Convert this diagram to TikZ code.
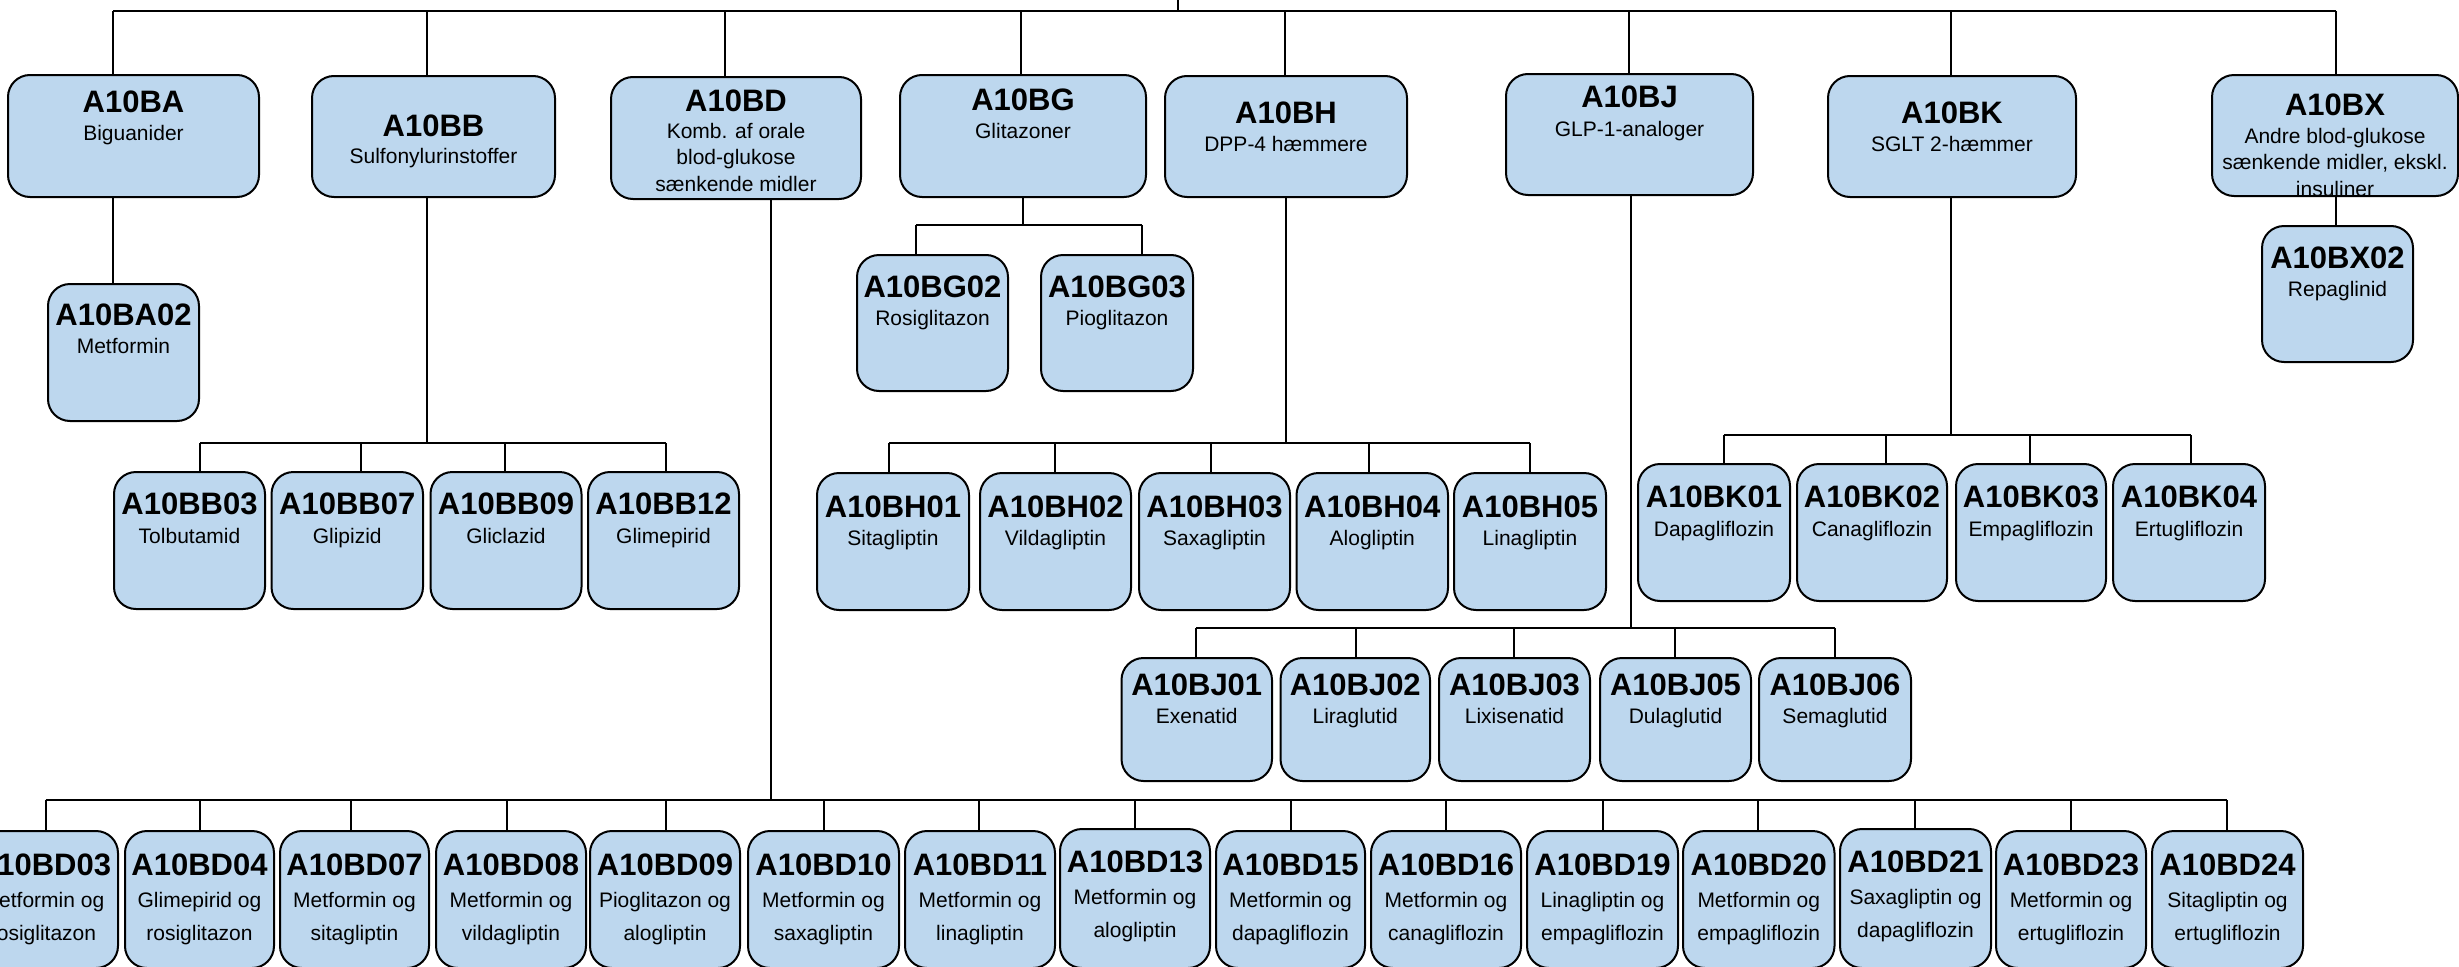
\documentclass[tikz,border=0pt]{standalone}
\usepackage{fontspec}
\setmainfont{Liberation Sans}
\newcommand\sublines[1]{\begin{tabular}[t]{@{}c@{}}#1\end{tabular}}
\def\subskip{26.5}
\definecolor{boxfill}{RGB}{189,215,238}
\tikzset{
  atcbox/.style={draw=black, fill=boxfill, line width=2pt, rounded corners=22pt, inner sep=0pt, outer sep=0pt},
  titletext/.style={anchor=base, inner sep=0pt, font=\fontsize{31}{37}\selectfont\bfseries},
  subtext/.style={anchor=base, inner sep=0pt, font=\fontsize{21}{\subskip}\selectfont},
  conn/.style={draw=black, line width=2pt}
}
% #1 name, #2 x1, #3 y1, #4 x2, #5 y2, #6 title baseline, #7 title, #8 sub baseline, #9 sub text
\newcommand\atc[9]{%
  \pgfmathsetmacro\bw{#4-(#2)}%
  \pgfmathsetmacro\bh{#5-(#3)}%
  \pgfmathsetmacro\cx{(#2+#4)/2}%
  \pgfmathsetmacro\cy{(#3+#5)/2}%
  \node[atcbox, minimum width=\bw pt, minimum height=\bh pt] (#1) at (\cx,\cy) {};
  \node[titletext] (#1-t) at (\cx,#6) {#7};
  \node[subtext] (#1-s) at (\cx,#8) {\sublines{#9}};
}
\begin{document}
\begin{tikzpicture}[x=1pt,y=-1pt]
\useasboundingbox (0,0) rectangle (2459,966);
\clip (0,0) rectangle (2459,966);

% ---------- level 1 ----------
\atc{ba}{8}{75}{259}{197}{112}{A10BA}{140}{Biguanider}
\atc{bb}{312}{76}{555}{197}{136}{A10BB}{163}{Sulfonylurinstoffer}
\atc{bd}{611}{77}{861}{199}{111}{A10BD}{138}{Komb. af orale\\blod-glukose\\sænkende midler}
\atc{bg}{900}{75}{1146}{197}{110}{A10BG}{138}{Glitazoner}
\atc{bh}{1165}{76}{1407}{197}{123}{A10BH}{151}{DPP-4 hæmmere}
\atc{bj}{1506}{74}{1753}{195}{107}{A10BJ}{136}{GLP-1-analoger}
\atc{bk}{1828}{76}{2076}{197}{123}{A10BK}{151}{SGLT 2-hæmmer}
\atc{bx}{2212}{75}{2458}{196}{115}{A10BX}{143}{Andre blod-glukose\\sænkende midler, ekskl.\\insuliner}

% ---------- children ----------
\atc{ba02}{48}{284}{199}{421}{325}{A10BA02}{353}{Metformin}

\atc{bb03}{114}{472}{265}{609}{514}{A10BB03}{543}{Tolbutamid}
\atc{bb07}{271.5}{472}{423}{609}{514}{A10BB07}{543}{Glipizid}
\atc{bb09}{430.5}{472}{581.5}{609}{514}{A10BB09}{543}{Gliclazid}
\atc{bb12}{588}{472}{739}{609}{514}{A10BB12}{543}{Glimepirid}

\atc{bg02}{857}{255}{1008}{391}{297}{A10BG02}{325}{Rosiglitazon}
\atc{bg03}{1041}{255}{1193}{391}{297}{A10BG03}{325}{Pioglitazon}

\atc{bh01}{817}{473}{969}{610}{517}{A10BH01}{545}{Sitagliptin}
\atc{bh02}{980}{473}{1131}{610}{517}{A10BH02}{545}{Vildagliptin}
\atc{bh03}{1139}{473}{1290}{610}{517}{A10BH03}{545}{Saxagliptin}
\atc{bh04}{1296.5}{473}{1448}{610}{517}{A10BH04}{545}{Alogliptin}
\atc{bh05}{1454}{473}{1606}{610}{517}{A10BH05}{545}{Linagliptin}

\atc{bj01}{1121.5}{658}{1272}{781}{695}{A10BJ01}{723}{Exenatid}
\atc{bj02}{1280.5}{658}{1430}{781}{695}{A10BJ02}{723}{Liraglutid}
\atc{bj03}{1439}{658}{1590}{781}{695}{A10BJ03}{723}{Lixisenatid}
\atc{bj05}{1600}{658}{1751}{781}{695}{A10BJ05}{723}{Dulaglutid}
\atc{bj06}{1759}{658}{1911}{781}{695}{A10BJ06}{723}{Semaglutid}

\atc{bk01}{1638}{464}{1790}{601}{507}{A10BK01}{536}{Dapagliflozin}
\atc{bk02}{1797}{464}{1947}{601}{507}{A10BK02}{536}{Canagliflozin}
\atc{bk03}{1956}{464}{2106}{601}{507}{A10BK03}{536}{Empagliflozin}
\atc{bk04}{2113}{464}{2265}{601}{507}{A10BK04}{536}{Ertugliflozin}

\atc{bx02}{2262}{226}{2413}{362}{268}{A10BX02}{296}{Repaglinid}

\def\subskip{33}
\atc{bd03}{-32}{831}{118}{968}{875}{A10BD03}{907}{Metformin og\\rosiglitazon}
\atc{bd04}{125}{831}{274}{968}{875}{A10BD04}{907}{Glimepirid og\\rosiglitazon}
\atc{bd07}{280}{831}{429}{968}{875}{A10BD07}{907}{Metformin og\\sitagliptin}
\atc{bd08}{436}{831}{586}{968}{875}{A10BD08}{907}{Metformin og\\vildagliptin}
\atc{bd09}{590}{831}{740}{968}{875}{A10BD09}{907}{Pioglitazon og\\alogliptin}
\atc{bd10}{748}{831}{899}{968}{875}{A10BD10}{907}{Metformin og\\saxagliptin}
\atc{bd11}{905}{831}{1055}{968}{875}{A10BD11}{907}{Metformin og\\linagliptin}
\atc{bd13}{1060}{829}{1210}{968}{872}{A10BD13}{904}{Metformin og\\alogliptin}
\atc{bd15}{1216}{831}{1365}{968}{875}{A10BD15}{907}{Metformin og\\dapagliflozin}
\atc{bd16}{1371}{831}{1521}{968}{875}{A10BD16}{907}{Metformin og\\canagliflozin}
\atc{bd19}{1527}{831}{1678}{968}{875}{A10BD19}{907}{Linagliptin og\\empagliflozin}
\atc{bd20}{1683}{831}{1834.5}{968}{875}{A10BD20}{907}{Metformin og\\empagliflozin}
\atc{bd21}{1840}{829}{1991}{968}{872}{A10BD21}{904}{Saxagliptin og\\dapagliflozin}
\atc{bd23}{1996}{831}{2146}{968}{875}{A10BD23}{907}{Metformin og\\ertugliflozin}
\atc{bd24}{2152}{831}{2303}{968}{875}{A10BD24}{907}{Sitagliptin og\\ertugliflozin}

% ---------- connectors: root to level 1 ----------
\coordinate (root) at (1178,0);
\coordinate (rootj) at (1178,11);
\coordinate (ba-j) at (113,11);
\coordinate (bb-j) at (426.5,11);
\coordinate (bd-j) at (725,11);
\coordinate (bg-j) at (1020.5,11);
\coordinate (bh-j) at (1285,11);
\coordinate (bj-j) at (1629,11);
\coordinate (bk-j) at (1951,11);
\coordinate (bx-j) at (2336,11);
\draw[conn] (root) -- (rootj);
\draw[conn] (ba-j) -- (bx-j);
\foreach \n in {ba,bb,bd,bg,bh,bj,bk,bx}
  \draw[conn] (\n-j) -- (\n-j |- \n.north);

% A10BA
\draw[conn] (ba-j |- ba.south) -- (ba-j |- ba02.north);
% A10BX
\draw[conn] (bx-j |- bx.south) -- (bx-j |- bx02.north);

% A10BB
\coordinate (bb-b) at (426.5,443);
\coordinate (bb03-j) at (200,443);
\coordinate (bb07-j) at (360.5,443);
\coordinate (bb09-j) at (505,443);
\coordinate (bb12-j) at (666,443);
\draw[conn] (bb-b |- bb.south) -- (bb-b);
\draw[conn] (bb03-j) -- (bb12-j);
\foreach \n in {bb03,bb07,bb09,bb12}
  \draw[conn] (\n-j) -- (\n-j |- \n.north);

% A10BG
\coordinate (bg-b) at (1023,225);
\coordinate (bg02-j) at (916,225);
\coordinate (bg03-j) at (1141.6,225);
\draw[conn] (bg-b |- bg.south) -- (bg-b);
\draw[conn] (bg02-j) -- (bg03-j);
\foreach \n in {bg02,bg03}
  \draw[conn] (\n-j) -- (\n-j |- \n.north);

% A10BH
\coordinate (bh-b) at (1286,443);
\coordinate (bh01-j) at (889,443);
\coordinate (bh02-j) at (1055,443);
\coordinate (bh03-j) at (1211,443);
\coordinate (bh04-j) at (1369,443);
\coordinate (bh05-j) at (1530,443);
\draw[conn] (bh-b |- bh.south) -- (bh-b);
\draw[conn] (bh01-j) -- (bh05-j);
\foreach \n in {bh01,bh02,bh03,bh04,bh05}
  \draw[conn] (\n-j) -- (\n-j |- \n.north);

% A10BJ
\coordinate (bj-b) at (1631,628);
\coordinate (bj01-j) at (1196,628);
\coordinate (bj02-j) at (1355.7,628);
\coordinate (bj03-j) at (1514,628);
\coordinate (bj05-j) at (1675,628);
\coordinate (bj06-j) at (1834.5,628);
\draw[conn] (bj-b |- bj.south) -- (bj-b);
\draw[conn] (bj01-j) -- (bj06-j);
\foreach \n in {bj01,bj02,bj03,bj05,bj06}
  \draw[conn] (\n-j) -- (\n-j |- \n.north);

% A10BK
\coordinate (bk-b) at (1951,435);
\coordinate (bk01-j) at (1724,435);
\coordinate (bk02-j) at (1885.5,435);
\coordinate (bk03-j) at (2030,435);
\coordinate (bk04-j) at (2190.7,435);
\draw[conn] (bk-b |- bk.south) -- (bk-b);
\draw[conn] (bk01-j) -- (bk04-j);
\foreach \n in {bk01,bk02,bk03,bk04}
  \draw[conn] (\n-j) -- (\n-j |- \n.north);

% A10BD
\coordinate (bd-b) at (771,800);
\coordinate (bd03-j) at (45.5,800);
\coordinate (bd04-j) at (199.5,800);
\coordinate (bd07-j) at (350.7,800);
\coordinate (bd08-j) at (507,800);
\coordinate (bd09-j) at (665.6,800);
\coordinate (bd10-j) at (824,800);
\coordinate (bd11-j) at (979,800);
\coordinate (bd13-j) at (1135,800);
\coordinate (bd15-j) at (1291,800);
\coordinate (bd16-j) at (1446,800);
\coordinate (bd19-j) at (1603,800);
\coordinate (bd20-j) at (1758,800);
\coordinate (bd21-j) at (1914.5,800);
\coordinate (bd23-j) at (2071,800);
\coordinate (bd24-j) at (2227,800);
\draw[conn] (bd-b |- bd.south) -- (bd-b);
\draw[conn] (bd03-j) -- (bd24-j);
\foreach \n in {bd03,bd04,bd07,bd08,bd09,bd10,bd11,bd13,bd15,bd16,bd19,bd20,bd21,bd23,bd24}
  \draw[conn] (\n-j) -- (\n-j |- \n.north);
\end{tikzpicture}
\end{document}
